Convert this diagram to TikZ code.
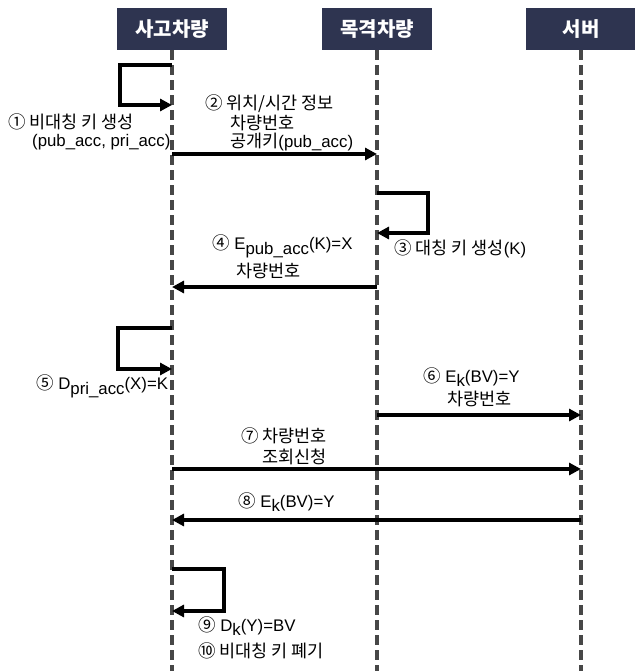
\documentclass[tikz,border=0pt]{standalone}
\usepackage{fontspec}
\setmainfont{Liberation Sans}
\newfontfamily\krfont{Noto Sans CJK KR}
\newfontfamily\krlfont[Scale=1.04]{Noto Sans CJK KR}
\newcommand{\kr}[1]{{\krlfont #1}}
\usetikzlibrary{arrows.meta}
\definecolor{hdrcol}{HTML}{2E3450}
\definecolor{lifecol}{HTML}{474747}
\tikzset{
  hdrbox/.style={fill=hdrcol, text=white, minimum width=110pt, minimum height=42pt, inner sep=0pt, font=\krfont\bfseries\fontsize{20}{24}\selectfont},
  lifeline/.style={draw=lifecol, line width=3.5pt, dash pattern=on 10pt off 5pt},
  msg/.style={draw=black, line width=4pt, -{Triangle[length=12pt,width=12pt]}},
  lbl/.style={anchor=west, inner sep=0pt, font=\fontsize{16.8}{19}\selectfont, text=black}
}
\newcommand{\lowsub}[1]{\raisebox{-0.28em}{#1}}
\begin{document}
\begin{tikzpicture}[x=1pt, y=-1pt]
\useasboundingbox[fill=white] (0,0) rectangle (634,671);
% headers
\node[hdrbox] (A) at (172,29) {사고차량};
\node[hdrbox] (B) at (377,29) {목격차량};
\node[hdrbox] (C) at (581,29) {서버};
% lifeline ends
\coordinate (Aend) at (172,671);
\coordinate (Bend) at (377,671);
\coordinate (Cend) at (581,671);
\draw[lifeline] (A.south) -- (Aend);
\draw[lifeline] (B.south) -- (Bend);
\draw[lifeline] (C.south) -- (Cend);
% 1 self
\coordinate (s1t) at (172,65);
\coordinate (s1b) at (172,105);
\draw[msg] (s1t) -- ++(-52,0) |- (s1b);
\node[lbl] (l1a) at (8,122) {\kr{① 비대칭 키 생성}};
\node[lbl] (l1b) at (32,142) {(pub\_acc, pri\_acc)};
% 2
\coordinate (a2) at (172,154);
\coordinate (b2) at (377,154);
\draw[msg] (a2) -- (b2);
\node[lbl] (l2a) at (205,104) {\kr{② 위치/시간 정보}};
\node[lbl] (l2b) at (230,123) {\kr{차량번호}};
\node[lbl] (l2c) at (230,142) {\kr{공개키}(pub\_acc)};
% 3 self
\coordinate (s3t) at (377,193);
\coordinate (s3b) at (377,233);
\draw[msg] (s3t) -- ++(51,0) |- (s3b);
\node[lbl] (l3) at (394,249) {\kr{③ 대칭 키 생성}(K)};
% 4
\coordinate (b4) at (377,287);
\coordinate (a4) at (172,287);
\draw[msg] (b4) -- (a4);
\node[lbl] (l4a) at (212,246) {\kr{④} E\lowsub{pub\_acc}(K)=X};
\node[lbl] (l4b) at (236,271) {\kr{차량번호}};
% 5 self
\coordinate (s5t) at (172,328);
\coordinate (s5b) at (172,369);
\draw[msg] (s5t) -- ++(-54,0) |- (s5b);
\node[lbl] (l5) at (36,386) {\kr{⑤} D\lowsub{pri\_acc}(X)=K};
% 6
\coordinate (b6) at (377,415);
\coordinate (c6) at (581,415);
\draw[msg] (b6) -- (c6);
\node[lbl] (l6a) at (423,377) {\kr{⑥} E\lowsub{k}(BV)=Y};
\node[lbl] (l6b) at (447,399) {\kr{차량번호}};
% 7
\coordinate (a7) at (172,469);
\coordinate (c7) at (581,469);
\draw[msg] (a7) -- (c7);
\node[lbl] (l7a) at (241,436) {\kr{⑦ 차량번호}};
\node[lbl] (l7b) at (262,457) {\kr{조회신청}};
% 8
\coordinate (c8) at (581,520);
\coordinate (a8) at (172,520);
\draw[msg] (c8) -- (a8);
\node[lbl] (l8) at (238,502) {\kr{⑧} E\lowsub{k}(BV)=Y};
% 9 self
\coordinate (s9t) at (172,569);
\coordinate (s9b) at (172,611);
\draw[msg] (s9t) -- ++(52,0) |- (s9b);
\node[lbl] (l9) at (198,626) {\kr{⑨} D\lowsub{k}(Y)=BV};
\node[lbl] (l10) at (198,651) {\kr{⑩ 비대칭 키 폐기}};
\end{tikzpicture}
\end{document}
